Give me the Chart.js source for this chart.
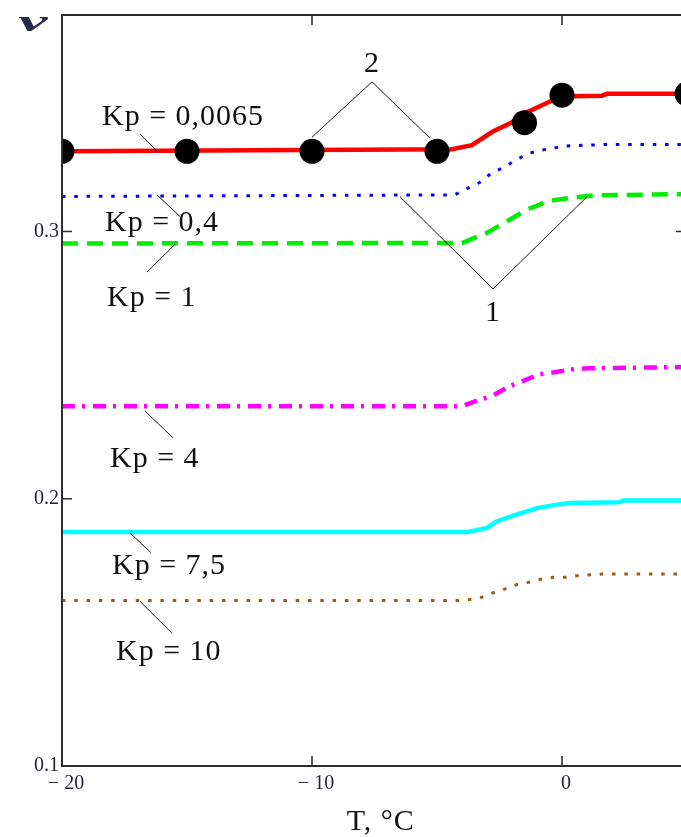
<!DOCTYPE html>
<html>
<head>
<meta charset="utf-8">
<title>ν(T) для разных Kp</title>
<script src="https://cdn.jsdelivr.net/npm/chart.js@4.4.1/dist/chart.umd.min.js"></script>
<style>
    html, body { margin: 0; padding: 0; background: #fff; overflow: hidden; }
    #wrap { width: 681px; height: 837px; }
</style>
</head>
<body>
<div id="wrap"><canvas id="chart" width="681" height="837"></canvas></div>
<script>
// Данные: T (°C) и ν для каждой кривой
const redT = [-20, -4.4, -3.6, -2.8, -2.0, -1.4, -0.4, 0.4, 1.6, 1.8, 5];
const redV = [0.330, 0.3308, 0.3323, 0.3372, 0.3409, 0.3446, 0.3490, 0.3506, 0.3508, 0.3515, 0.3515];

const dotT = [-20, -15, -10, -5, -1.5, 0, 5];
const dotV = [0.330, 0.330, 0.330, 0.330, 0.3407, 0.3510, 0.3515];

const blueT = [-20, -4.3, -3.8, -3.3, -2.8, -2.3, -1.85, -1.35, -0.85, -0.35, 0.15, 1.6, 5];
const blueV = [0.3131, 0.3137, 0.3160, 0.3183, 0.3220, 0.3241, 0.3267, 0.3292, 0.3304, 0.3312, 0.3320, 0.3325, 0.3325];

const greenT = [-20, -4.0, -3.0, -2.2, -1.4, -0.5, 0.45, 1.25, 5];
const greenV = [0.2955, 0.2957, 0.2995, 0.3038, 0.3082, 0.3115, 0.3127, 0.3135, 0.3140];

const magentaT = [-20, -4.0, -3.4, -2.8, -2.15, -1.55, -0.9, -0.3, 0.3, 1.0, 5];
const magentaV = [0.2346, 0.2346, 0.2367, 0.2384, 0.2419, 0.2441, 0.2466, 0.2473, 0.2483, 0.2488, 0.2493];

const cyanT = [-20, -3.75, -3.0, -2.6, -1.95, -1.0, -0.2, 0.3, 2.3, 2.45, 5];
const cyanV = [0.1876, 0.1876, 0.1891, 0.1916, 0.1937, 0.1965, 0.1978, 0.1984, 0.1987, 0.1993, 0.1993];

const brownT = [-20, -4.2, -3.75, -3.3, -2.8, -2.3, -1.8, -1.35, -0.85, -0.35, 0.15, 0.6, 1.6, 5];
const brownV = [0.1619, 0.1619, 0.1622, 0.1628, 0.1647, 0.1662, 0.1679, 0.1687, 0.1699, 0.1706, 0.1706, 0.1712, 0.1718, 0.1718];

// Деления осей (правая граница графика T = 5 обрезана краем картинки)
const xTicks = [-20, -10, 0];
const xTickLabels = ['\u2212 20', '\u2212 10', '0'];
const yTicks = [0.1, 0.2, 0.3];
const yTickLabels = ['0.1', '0.2', '0.3'];
const yTicksRight = [0.3];
const xFrameMax = 5;

// Подписи кривых: текст, позиция (T, ν), выноска
const kpLabels = ['Kp = 0,0065', 'Kp = 0,4', 'Kp = 1', 'Kp = 4', 'Kp = 7,5', 'Kp = 10'];
const kpLabelT = [-18.4, -18.28, -18.2, -18.08, -18.0, -17.84];
const kpLabelV = [0.3397, 0.3000, 0.2722, 0.2117, 0.1720, 0.1397];
const leaderT = [[-16.88, -16.16], [-16.2, -15.28], [-15.48, -16.6], [-16.68, -15.56], [-17.28, -16.44], [-16.88, -15.6]];
const leaderV = [[0.3364, 0.3297], [0.3137, 0.3056], [0.2952, 0.2848], [0.2328, 0.2228], [0.1872, 0.1798], [0.1616, 0.1497]];

// Выноски "1" и "2"
const markLabels = ['2', '1'];
const markT = [[-10, -7.6, -5.28], [-6.48, -2.76, 1.0]];
const markV = [[0.3353, 0.3560, 0.3349], [0.3130, 0.2785, 0.3130]];
const markTextV = [0.3597, 0.2666];

const SERIF = '"Liberation Serif", "Times New Roman", serif';

function toPoints(xs, ys) {
    return xs.map((x, i) => ({ x: x, y: ys[i] }));
}

function curve(xs, ys, color, width, dash) {
    return {
        data: toPoints(xs, ys),
        showLine: true,
        borderColor: color,
        borderWidth: width,
        borderDash: dash || [],
        borderCapStyle: 'butt',
        pointRadius: 0,
        tension: 0,
        fill: false,
        clip: { left: 0, top: false, right: false, bottom: false },
        order: 2
    };
}

// Рамка, внутренние засечки и все подписи поверх графика
const decorPlugin = {
    id: 'decor',
    afterDatasetsDraw(chart) {
        const ctx = chart.ctx;
        const area = chart.chartArea;
        const xs = chart.scales.x;
        const ys = chart.scales.y;
        const px = v => xs.getPixelForValue(v);
        const py = v => ys.getPixelForValue(v);
        const right = px(xFrameMax);

        ctx.save();

        // Рамка (правая сторона за краем картинки)
        ctx.strokeStyle = '#2e2e2e';
        ctx.lineWidth = 2;
        ctx.strokeRect(area.left, area.top, right - area.left, area.bottom - area.top);

        // Засечки внутрь
        ctx.lineWidth = 1.6;
        ctx.beginPath();
        xTicks.forEach(t => {
            const x = px(t);
            ctx.moveTo(x, area.bottom); ctx.lineTo(x, area.bottom - 10);
            ctx.moveTo(x, area.top); ctx.lineTo(x, area.top + 10);
        });
        yTicks.forEach(v => {
            const y = py(v);
            ctx.moveTo(area.left, y); ctx.lineTo(area.left + 10, y);
        });
        yTicksRight.forEach(v => {
            const y = py(v);
            ctx.moveTo(right, y); ctx.lineTo(right - 11, y);
        });
        ctx.stroke();

        // Выноски к подписям Kp
        ctx.strokeStyle = '#1a1a1a';
        ctx.lineWidth = 1;
        ctx.beginPath();
        leaderT.forEach((pair, i) => {
            ctx.moveTo(px(pair[0]), py(leaderV[i][0]));
            ctx.lineTo(px(pair[1]), py(leaderV[i][1]));
        });
        markT.forEach((tri, i) => {
            ctx.moveTo(px(tri[0]), py(markV[i][0]));
            ctx.lineTo(px(tri[1]), py(markV[i][1]));
            ctx.lineTo(px(tri[2]), py(markV[i][2]));
        });
        ctx.stroke();

        // Тексты
        ctx.fillStyle = '#111';
        ctx.font = '30px ' + SERIF;
        ctx.textBaseline = 'alphabetic';
        if ('letterSpacing' in ctx) ctx.letterSpacing = '1px';
        ctx.textAlign = 'left';
        kpLabels.forEach((txt, i) => {
            ctx.fillText(txt, px(kpLabelT[i]), py(kpLabelV[i]));
        });
        ctx.textAlign = 'center';
        markLabels.forEach((txt, i) => {
            ctx.fillText(txt, px(markT[i][1]), py(markTextV[i]));
        });

        // Подпись оси X
        ctx.fillText('T, \u00b0C', px(-7.25), area.bottom + 64);

        // Обозначение оси Y (широкая жирная ν)
        if ('letterSpacing' in ctx) ctx.letterSpacing = '0px';
        ctx.fillStyle = '#2a2a50';
        ctx.font = 'italic bold 30px ' + SERIF;
        ctx.textAlign = 'center';
        ctx.textBaseline = 'bottom';
        ctx.translate(33, 38);
        ctx.scale(2.2, 1);
        ctx.fillText('\u03bd', 0, 0);

        ctx.restore();
    }
};

const ctx = document.getElementById('chart').getContext('2d');

new Chart(ctx, {
    type: 'scatter',
    data: {
        datasets: [
            {
                // Точки (2)
                data: toPoints(dotT, dotV),
                showLine: false,
                pointRadius: 12.5,
                pointHoverRadius: 12.5,
                pointBackgroundColor: '#000',
                pointBorderWidth: 0,
                clip: { left: 0, top: false, right: false, bottom: false },
                order: 1
            },
            curve(redT, redV, '#ff0000', 4.5),
            curve(blueT, blueV, '#0000ff', 3, [3.5, 8.8]),
            curve(greenT, greenV, '#00ee00', 4.5, [16, 9]),
            curve(magentaT, magentaV, '#ff00ff', 4.5, [13, 7, 3, 8]),
            curve(cyanT, cyanV, '#00ffff', 4.5),
            curve(brownT, brownV, '#9b5a1a', 3, [3.5, 8.8])
        ]
    },
    options: {
        responsive: false,
        animation: false,
        events: [],
        layout: { autoPadding: false, padding: { left: 0, top: 9, right: 0, bottom: 0 } },
        plugins: {
            legend: { display: false },
            tooltip: { enabled: false }
        },
        scales: {
            x: {
                type: 'linear',
                min: -20,
                max: 4.76,
                grid: { display: false, drawTicks: false },
                border: { display: false },
                afterBuildTicks: scale => { scale.ticks = xTicks.map(v => ({ value: v })); },
                afterFit: scale => { scale.height = 71; },
                ticks: {
                    padding: 6,
                    labelOffset: 4,
                    color: '#1f1f3a',
                    font: { family: SERIF, size: 20 },
                    maxRotation: 0,
                    autoSkip: false,
                    callback: (value) => xTickLabels[xTicks.indexOf(value)]
                }
            },
            y: {
                type: 'linear',
                min: 0.1,
                max: 0.381,
                grid: { display: false, drawTicks: false },
                border: { display: false },
                afterBuildTicks: scale => { scale.ticks = yTicks.map(v => ({ value: v })); },
                afterFit: scale => { scale.width = 62; },
                ticks: {
                    padding: 3,
                    color: '#1f1f3a',
                    font: { family: SERIF, size: 20 },
                    autoSkip: false,
                    callback: (value) => yTickLabels[yTicks.findIndex(t => Math.abs(t - value) < 1e-9)]
                }
            }
        }
    },
    plugins: [decorPlugin]
});
</script>
</body>
</html>
